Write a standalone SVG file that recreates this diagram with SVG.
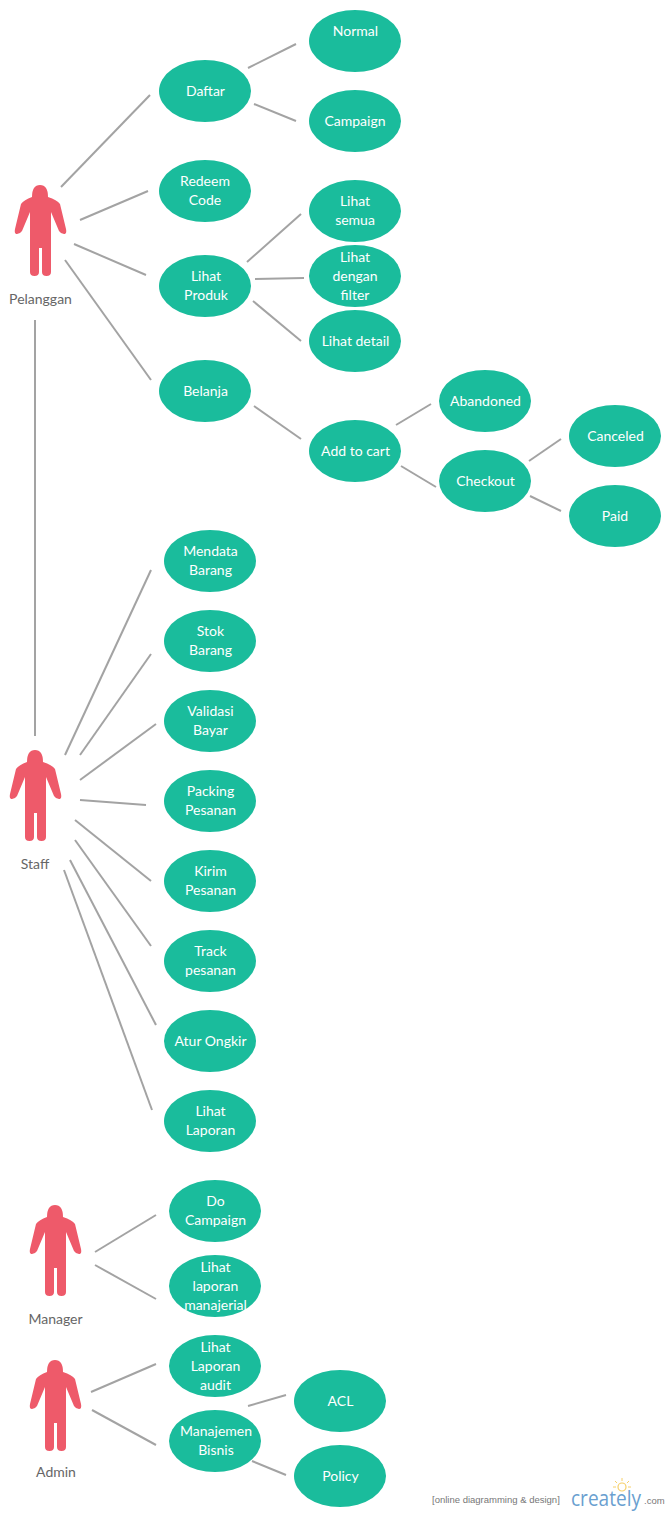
<svg xmlns="http://www.w3.org/2000/svg" width="670" height="1515" viewBox="0 0 670 1515">
<style>
.n{fill:#1abc9c}
.t{font-family:Lato,"Open Sans",sans-serif;font-size:14px;fill:#fff;text-anchor:middle}
.a{fill:#ee5a6a}
.l{font-family:Lato,"Open Sans",sans-serif;font-size:14px;fill:#666;text-anchor:middle}
#connectors line{stroke:#a3a3a3;stroke-width:2;fill:none}
</style>
<defs>
<path id="actor" d="M32,197 Q24,200 21,204 L15,229 Q14,234 17,234 Q20,234 22,231 L30,212 L30,272 Q30,276 34.500,276 Q39,276 39,272 L39,248 L42,248 L42,272 Q42,276 46.500,276 Q51,276 51,272 L51,212 L59,231 Q61,234 64,234 Q67,234 66,229 L60,204 Q57,200 48,197 Q48,185 40,185 Q32,185 32,197 Z"/>
<ellipse id="e" rx="46" ry="31"/>
</defs>
<rect width="670" height="1515" fill="#fff"/>
<g id="connectors">
<line x1="61" y1="187" x2="150" y2="95"/>
<line x1="80" y1="220" x2="148" y2="191"/>
<line x1="74" y1="244" x2="146" y2="275"/>
<line x1="65" y1="260" x2="151" y2="380"/>
<line x1="35" y1="320" x2="35" y2="736"/>
<line x1="248" y1="68" x2="296" y2="44"/>
<line x1="254" y1="104" x2="296" y2="121"/>
<line x1="247" y1="262" x2="301" y2="214"/>
<line x1="255" y1="279" x2="304" y2="278"/>
<line x1="253" y1="301" x2="301" y2="341"/>
<line x1="254" y1="406" x2="301" y2="439"/>
<line x1="396" y1="425" x2="431" y2="404"/>
<line x1="401" y1="466" x2="436" y2="487"/>
<line x1="529" y1="461" x2="561" y2="439"/>
<line x1="530" y1="496" x2="561" y2="511"/>
<line x1="65" y1="755" x2="151" y2="570"/>
<line x1="80" y1="755" x2="151" y2="654"/>
<line x1="80" y1="780" x2="156" y2="724"/>
<line x1="80" y1="800" x2="146" y2="805"/>
<line x1="75" y1="820" x2="151" y2="881"/>
<line x1="75" y1="840" x2="151" y2="946"/>
<line x1="70" y1="860" x2="156" y2="1025"/>
<line x1="64" y1="870" x2="152" y2="1110"/>
<line x1="95" y1="1252" x2="156" y2="1215"/>
<line x1="95" y1="1265" x2="156" y2="1299"/>
<line x1="91" y1="1392" x2="156" y2="1364"/>
<line x1="92" y1="1410" x2="156" y2="1445"/>
<line x1="248" y1="1406" x2="286" y2="1395"/>
<line x1="252" y1="1461" x2="286" y2="1475"/>
</g>
<g id="actor-pelanggan"><use href="#actor" class="a"/><text class="l" x="40.500" y="304">Pelanggan</text></g>
<g id="actor-staff"><use href="#actor" class="a" x="-5" y="565"/><text class="l" x="35" y="869">Staff</text></g>
<g id="actor-manager"><use href="#actor" class="a" x="15" y="1020"/><text class="l" x="55.500" y="1324">Manager</text></g>
<g id="actor-admin"><use href="#actor" class="a" x="15" y="1175"/><text class="l" x="56" y="1477">Admin</text></g>
<g id="daftar"><use href="#e" class="n" x="205" y="91"/><text class="t" x="205.500" y="96">Daftar</text></g>
<g id="normal"><use href="#e" class="n" x="355" y="41"/><text class="t" x="355.500" y="36">Normal</text></g>
<g id="campaign"><use href="#e" class="n" x="355" y="121"/><text class="t" x="355" y="126">Campaign</text></g>
<g id="redeem"><use href="#e" class="n" x="205" y="191"/><text class="t" x="205" y="186">Redeem</text><text class="t" x="205" y="205">Code</text></g>
<g id="lihat-produk"><use href="#e" class="n" x="205" y="286"/><text class="t" x="206" y="281">Lihat</text><text class="t" x="206" y="300">Produk</text></g>
<g id="lihat-semua"><use href="#e" class="n" x="355" y="211"/><text class="t" x="355" y="206">Lihat</text><text class="t" x="355" y="225">semua</text></g>
<g id="lihat-filter"><use href="#e" class="n" x="355" y="276"/><text class="t" x="355" y="262">Lihat</text><text class="t" x="355" y="281">dengan</text><text class="t" x="355" y="300">filter</text></g>
<g id="lihat-detail"><use href="#e" class="n" x="355" y="341"/><text class="t" x="355.500" y="346">Lihat detail</text></g>
<g id="belanja"><use href="#e" class="n" x="205" y="391"/><text class="t" x="205.500" y="396">Belanja</text></g>
<g id="add-to-cart"><use href="#e" class="n" x="355" y="451"/><text class="t" x="355.500" y="456">Add to cart</text></g>
<g id="abandoned"><use href="#e" class="n" x="485" y="401"/><text class="t" x="485.500" y="406">Abandoned</text></g>
<g id="checkout"><use href="#e" class="n" x="485" y="481"/><text class="t" x="485.500" y="486">Checkout</text></g>
<g id="canceled"><use href="#e" class="n" x="615" y="436"/><text class="t" x="615.500" y="441">Canceled</text></g>
<g id="paid"><use href="#e" class="n" x="615" y="516"/><text class="t" x="615" y="521">Paid</text></g>
<g id="mendata"><use href="#e" class="n" x="210" y="561"/><text class="t" x="210.500" y="556">Mendata</text><text class="t" x="210.500" y="575">Barang</text></g>
<g id="stok"><use href="#e" class="n" x="210" y="641"/><text class="t" x="210.500" y="636">Stok</text><text class="t" x="210.500" y="655">Barang</text></g>
<g id="validasi"><use href="#e" class="n" x="210" y="721"/><text class="t" x="210.500" y="716">Validasi</text><text class="t" x="210.500" y="735">Bayar</text></g>
<g id="packing"><use href="#e" class="n" x="210" y="801"/><text class="t" x="210.500" y="796">Packing</text><text class="t" x="210.500" y="815">Pesanan</text></g>
<g id="kirim"><use href="#e" class="n" x="210" y="881"/><text class="t" x="210.500" y="876">Kirim</text><text class="t" x="210.500" y="895">Pesanan</text></g>
<g id="track"><use href="#e" class="n" x="210" y="961"/><text class="t" x="210.500" y="956">Track</text><text class="t" x="210.500" y="975">pesanan</text></g>
<g id="ongkir"><use href="#e" class="n" x="210" y="1041"/><text class="t" x="210.500" y="1046">Atur Ongkir</text></g>
<g id="laporan"><use href="#e" class="n" x="210" y="1121"/><text class="t" x="210.500" y="1116">Lihat</text><text class="t" x="210.500" y="1135">Laporan</text></g>
<g id="do-campaign"><use href="#e" class="n" x="215" y="1211"/><text class="t" x="215.500" y="1206">Do</text><text class="t" x="215.500" y="1225">Campaign</text></g>
<g id="laporan-manajerial"><use href="#e" class="n" x="215" y="1286"/><text class="t" x="215.500" y="1272">Lihat</text><text class="t" x="215.500" y="1291">laporan</text><text class="t" x="215.500" y="1310">manajerial</text></g>
<g id="laporan-audit"><use href="#e" class="n" x="215" y="1366"/><text class="t" x="215.500" y="1352">Lihat</text><text class="t" x="215.500" y="1371">Laporan</text><text class="t" x="215.500" y="1390">audit</text></g>
<g id="manajemen"><use href="#e" class="n" x="215" y="1441"/><text class="t" x="216" y="1436">Manajemen</text><text class="t" x="216" y="1455">Bisnis</text></g>
<g id="acl"><use href="#e" class="n" x="340" y="1401"/><text class="t" x="340.500" y="1406">ACL</text></g>
<g id="policy"><use href="#e" class="n" x="340" y="1476"/><text class="t" x="340.500" y="1481">Policy</text></g>
<g id="watermark">
<text x="432" y="1503" font-family="Liberation Sans,sans-serif" font-size="9.500" fill="#777">[online diagramming &amp; design]</text>
<text x="571" y="1506" font-family="Open Sans,sans-serif" font-size="22" fill="#6a9fd0" textLength="70" lengthAdjust="spacingAndGlyphs">creately</text>
<text x="644" y="1504" font-family="Liberation Sans,sans-serif" font-size="9.500" fill="#777">.com</text>
<circle cx="622" cy="1487" r="4" fill="none" stroke="#f6d06a" stroke-width="1.200"/>
<path d="M622,1478v3M615,1481l2,2M629,1481l-2,2M613,1487h3M628,1487h3" stroke="#f6d06a" stroke-width="1"/>
</g>
</svg>
